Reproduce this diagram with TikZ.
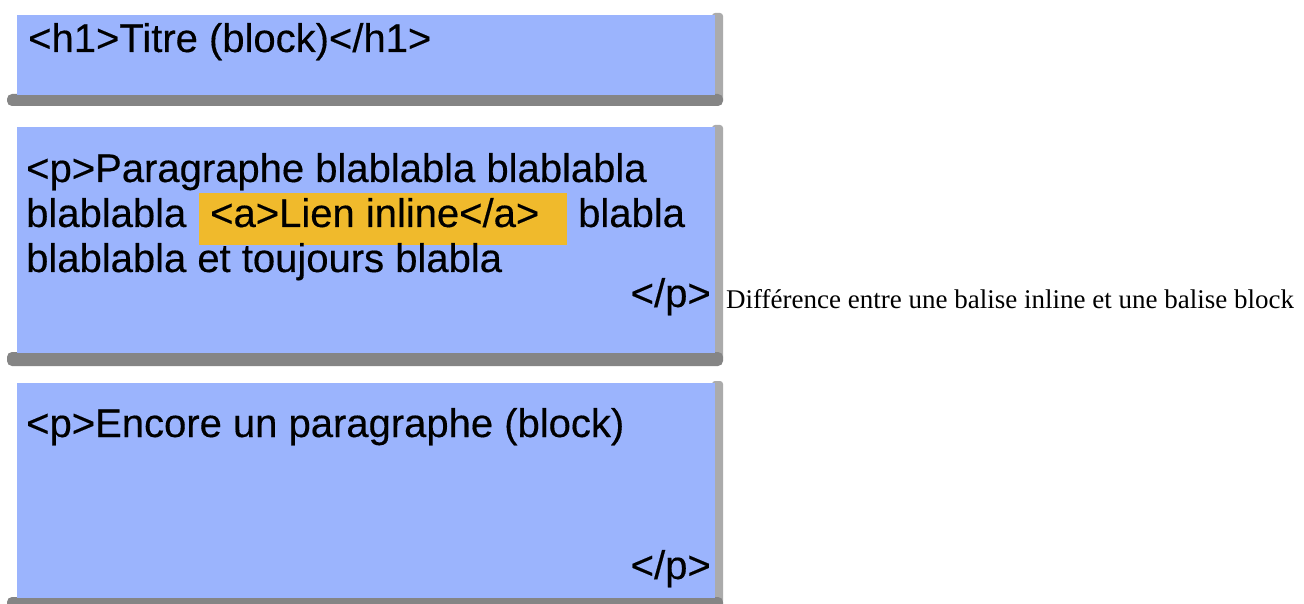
\documentclass[tikz,border=0pt]{standalone}
\usepackage{fontspec}
\setmainfont{Liberation Serif}
\newfontfamily\boxfont[FakeBold=0.35]{Liberation Sans}
\definecolor{boxblue}{HTML}{9BB4FD}
\definecolor{linkorange}{HTML}{F0BA2C}
\definecolor{shadowgray}{HTML}{858585}
\definecolor{sidegray}{HTML}{ABABAB}
\begin{document}
\begin{tikzpicture}[x=1pt,y=-1pt,
  boxtext/.style={anchor=base west,inner sep=0pt,font=\boxfont\fontsize{40}{46}\selectfont},
  bluebox/.style={fill=boxblue,draw=none},
  bottomshadow/.style={fill=shadowgray,draw=none,rounded corners=5pt},
  sideshadow/.style={fill=sidegray,draw=none,rounded corners=3pt},
  labeltext/.style={anchor=base west,inner sep=0pt,font=\fontsize{27}{32}\selectfont}]
\useasboundingbox (0,0) rectangle (1304,604);
\fill[white] (0,0) rectangle (1304,604);
% box 1
\fill[sideshadow] (712,13) rectangle (723,102);
\fill[bottomshadow] (7,94) rectangle (723,106);
\fill[bluebox] (17,15) rectangle (715,95);
\node[boxtext] (h1) at (28,52) {<h1>Titre (block)</h1>};
% box 2
\fill[sideshadow] (712,125) rectangle (723,360);
\fill[bottomshadow] (7,352) rectangle (723,366);
\fill[bluebox] (17,127) rectangle (715,353);
\node[boxtext] (p1l1) at (26,182) {<p>Paragraphe blablabla blablabla};
\node[boxtext] (p1l2a) at (26,227) {blablabla};
\fill[linkorange] (199,193) rectangle (567,245);
\node[boxtext] (link) at (210,227) {<a>Lien inline</a>};
\node[boxtext] (p1l2b) at (578,227) {blabla};
\node[boxtext] (p1l3) at (26,272) {blablabla et toujours blabla};
\node[boxtext,anchor=base east] (p1end) at (711,307) {</p>};
% box 3
\fill[sideshadow] (712,381) rectangle (723,604);
\fill[bottomshadow] (7,597) rectangle (723,610);
\fill[bluebox] (17,383) rectangle (715,598);
\node[boxtext] (p2l1) at (26,437) {<p>Encore un paragraphe (block)};
\node[boxtext,anchor=base east] (p2end) at (711,579) {</p>};
% caption
\node[labeltext] (caption) at (726,308) {Différence entre une balise inline et une balise block};
\end{tikzpicture}
\end{document}
